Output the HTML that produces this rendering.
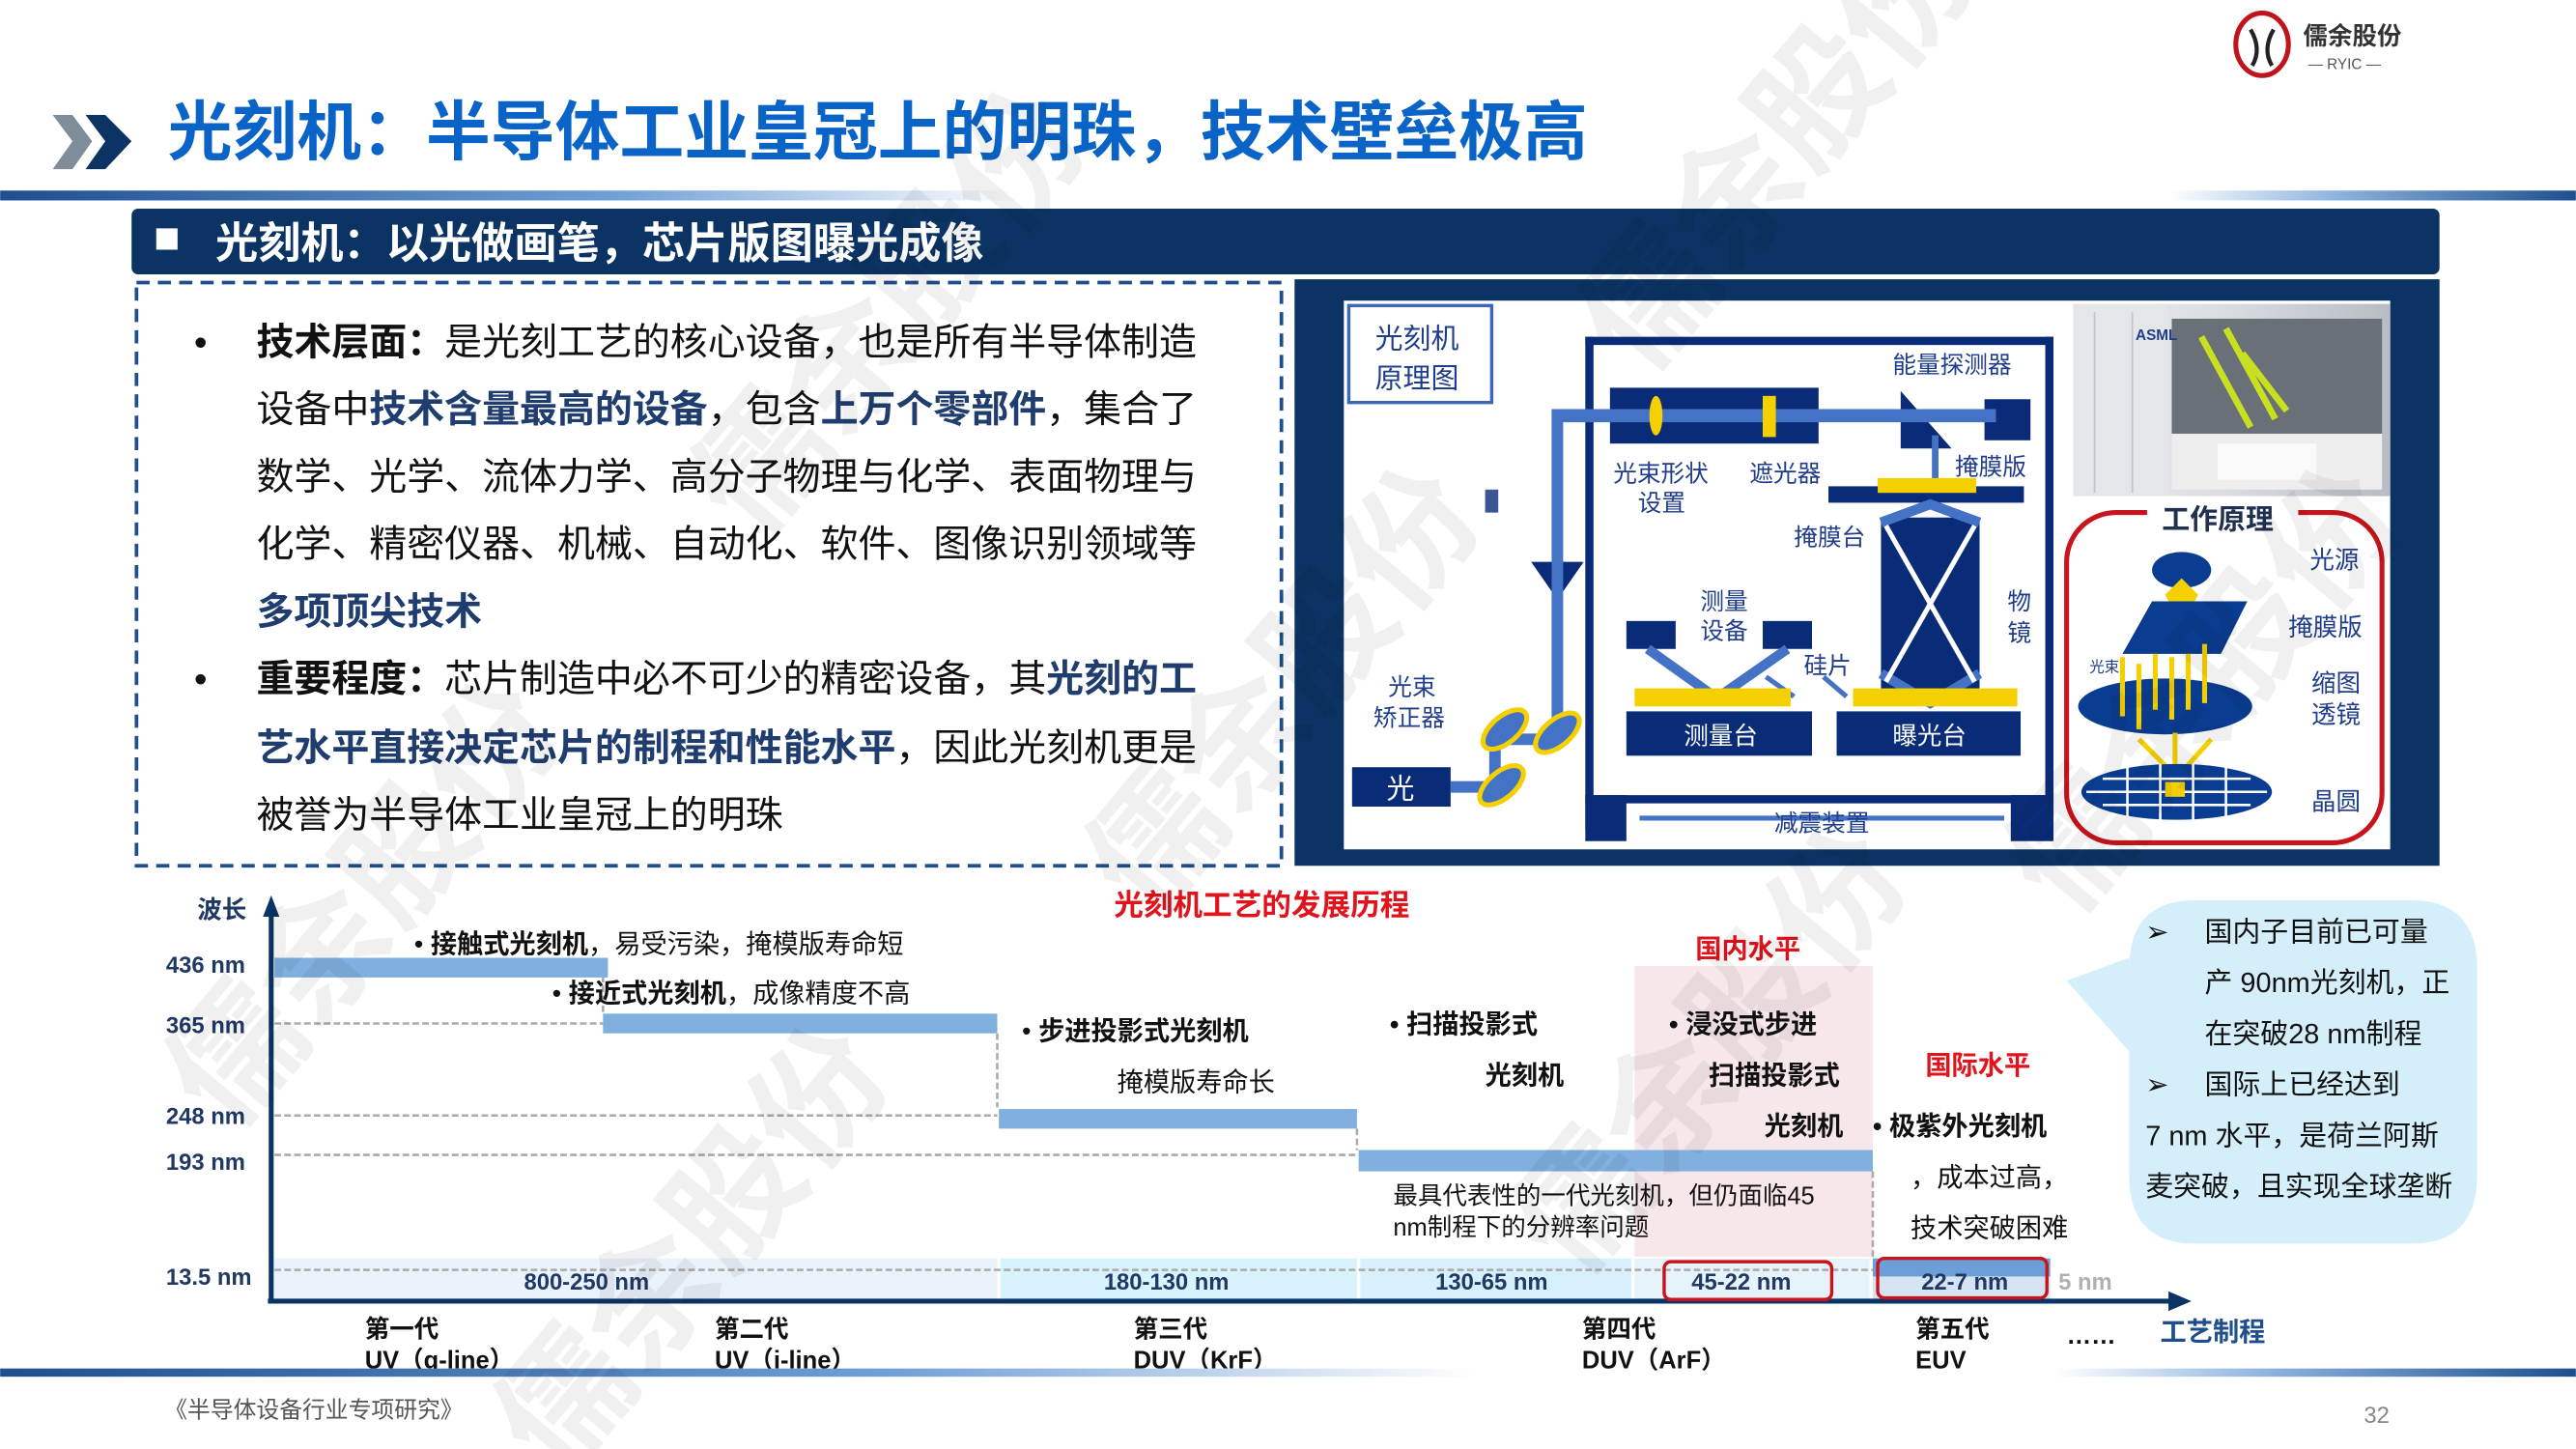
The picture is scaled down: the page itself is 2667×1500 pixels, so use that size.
<!DOCTYPE html>
<html><head><meta charset="utf-8"><style>
html,body{margin:0;padding:0;background:#fff;}
svg{display:block;}
text{font-family:"Liberation Sans","Noto Sans CJK SC",sans-serif;}
</style></head><body>
<svg width="2667" height="1500" viewBox="0 0 1568 882" xmlns="http://www.w3.org/2000/svg">
<defs>
<linearGradient id="gl" x1="0" x2="1"><stop offset="0" stop-color="#1d4f8f"/><stop offset="0.6" stop-color="#6f9fd6"/><stop offset="1" stop-color="#fff"/></linearGradient>
<linearGradient id="gr" x1="0" x2="1"><stop offset="0" stop-color="#fff"/><stop offset="0.4" stop-color="#8fb5e0"/><stop offset="1" stop-color="#1d4f8f"/></linearGradient>
<linearGradient id="asml" x1="0" x2="1"><stop offset="0" stop-color="#eef0f3"/><stop offset="0.5" stop-color="#d8dbe0"/><stop offset="1" stop-color="#b8bcc4"/></linearGradient>
</defs>

<!-- header -->
<polygon points="32,70 44,70 56,86 44,103 32,103 44,86" fill="#7f8c9a"/>
<polygon points="52,70 64,70 80,86 64,103 52,103 64,86" fill="#0b3464"/>
<text x="102" y="94" font-size="39.3" font-weight="bold" fill="#0a64c8">光刻机：半导体工业皇冠上的明珠，技术壁垒极高</text>
<ellipse cx="1377" cy="27" rx="16" ry="19" fill="none" stroke="#c0141c" stroke-width="3"/>
<path d="M1370 18 Q1377 30 1371 40 M1384 18 Q1377 30 1383 40" stroke="#222" stroke-width="2.5" fill="none"/>
<text x="1402" y="27" font-size="15" font-weight="bold" fill="#333">儒余股份</text>
<text x="1405" y="42" font-size="9" fill="#555">— RYIC —</text>
<rect x="0" y="116" width="620" height="6" fill="url(#gl)"/>
<rect x="1320" y="116" width="248" height="6" fill="url(#gr)"/>

<rect x="80" y="127" width="1405" height="40" rx="4" fill="#0b3464"/>
<rect x="95" y="139" width="13" height="13" fill="#fff"/>
<text x="131" y="157" font-size="26" font-weight="bold" fill="#fff">光刻机：以光做画笔，芯片版图曝光成像</text>

<!-- left dashed box -->
<rect x="83" y="172" width="697" height="355" fill="none" stroke="#1f4e8c" stroke-width="2.2" stroke-dasharray="8,5"/>
<g font-size="22.9" fill="#111">
<text x="118" y="216">•</text>
<text x="156" y="216"><tspan font-weight="bold">技术层面：</tspan>是光刻工艺的核心设备，也是所有半导体制造</text>
<text x="156" y="257">设备中<tspan font-weight="bold" fill="#1f3d6e">技术含量最高的设备</tspan>，包含<tspan font-weight="bold" fill="#1f3d6e">上万个零部件</tspan>，集合了</text>
<text x="156" y="298">数学、光学、流体力学、高分子物理与化学、表面物理与</text>
<text x="156" y="339">化学、精密仪器、机械、自动化、软件、图像识别领域等</text>
<text x="156" y="380" font-weight="bold" fill="#1f3d6e">多项顶尖技术</text>
<text x="118" y="421">•</text>
<text x="156" y="421"><tspan font-weight="bold">重要程度：</tspan>芯片制造中必不可少的精密设备，其<tspan font-weight="bold" fill="#1f3d6e">光刻的工</tspan></text>
<text x="156" y="463"><tspan font-weight="bold" fill="#1f3d6e">艺水平直接决定芯片的制程和性能水平</tspan>，因此光刻机更是</text>
<text x="156" y="504">被誉为半导体工业皇冠上的明珠</text>
</g>

<!-- right panel -->
<rect x="788" y="170" width="697" height="357" fill="#0b3464"/>
<rect x="818" y="183" width="637" height="334" fill="#fff"/>
<rect x="821" y="186" width="87" height="59" fill="none" stroke="#3a67b8" stroke-width="2"/>
<g font-size="17" fill="#1f3d8a"><text x="837" y="212">光刻机</text><text x="837" y="236">原理图</text></g>

<g fill="#0a2c78">
<rect x="965" y="205" width="285" height="5"/>
<rect x="965" y="205" width="5" height="300"/>
<rect x="1245" y="205" width="5" height="300"/>
<rect x="965" y="484" width="285" height="5"/>
<rect x="965" y="484" width="25" height="28"/>
<rect x="1224" y="484" width="26" height="28"/>
<rect x="980" y="236" width="127" height="34"/>
<polygon points="1157,238 1188,273 1157,273"/>
<rect x="1208" y="243" width="28" height="25"/>
<polygon points="932,342 964,342 948,365"/>
<rect x="1113" y="296" width="119" height="10"/>
<rect x="1145" y="315" width="60" height="105"/>
<rect x="990" y="378" width="30" height="17"/>
<rect x="1073" y="378" width="30" height="17"/>
<rect x="990" y="433" width="113" height="27"/>
<rect x="1118" y="433" width="112" height="27"/>
<rect x="823" y="467" width="60" height="24"/>
<rect x="904" y="298" width="8" height="14" opacity="0.8"/>
</g>
<g stroke="#4472c4" fill="none">
<line x1="948" y1="253" x2="1215" y2="253" stroke-width="8"/>
<line x1="948" y1="249" x2="948" y2="455" stroke-width="7"/>
<line x1="1178" y1="265" x2="1178" y2="300" stroke-width="4"/>
<polyline points="1145,318 1175,307 1205,318" stroke-width="6"/>
<polyline points="1145,410 1175,428 1205,410" stroke-width="6"/>
<polyline points="1003,395 1045,425 1088,395" stroke-width="6"/>
<line x1="1075" y1="412" x2="1092" y2="424" stroke-width="3"/>
<line x1="1110" y1="412" x2="1124" y2="424" stroke-width="3"/>
<line x1="883" y1="479" x2="910" y2="479" stroke-width="7"/>
<line x1="910" y1="479" x2="910" y2="450" stroke-width="7"/>
<line x1="910" y1="450" x2="948" y2="450" stroke-width="7"/>
<line x1="998" y1="498" x2="1220" y2="498" stroke-width="3"/>
</g>
<g stroke="#fff" stroke-width="3"><line x1="1148" y1="320" x2="1202" y2="415"/><line x1="1202" y1="320" x2="1148" y2="415"/></g>
<ellipse cx="1008" cy="253" rx="4" ry="12" fill="#f5d000"/>
<rect x="1073" y="241" width="8" height="25" fill="#f5d000"/>
<rect x="1143" y="291" width="60" height="9" fill="#f5d000"/>
<rect x="995" y="419" width="95" height="11" fill="#f5d000"/>
<rect x="1128" y="419" width="100" height="11" fill="#f5d000"/>
<g fill="#4472c4" stroke="#f5d000" stroke-width="3">
<ellipse cx="916" cy="444" rx="16" ry="8" transform="rotate(-40 916 444)"/>
<ellipse cx="948" cy="446" rx="16" ry="8" transform="rotate(-40 948 446)"/>
<ellipse cx="914" cy="478" rx="16" ry="8" transform="rotate(-40 914 478)"/>
</g>
<g font-size="14.5" fill="#1f3d8a">
<text x="1152" y="227">能量探测器</text>
<text x="982" y="293">光束形状</text><text x="997" y="311">设置</text>
<text x="1065" y="293">遮光器</text>
<text x="1190" y="289">掩膜版</text>
<text x="1092" y="332">掩膜台</text>
<text x="1035" y="371">测量</text><text x="1035" y="389">设备</text>
<text x="1222" y="371">物</text><text x="1222" y="390">镜</text>
<text x="1098" y="410">硅片</text>
<text x="845" y="423">光束</text><text x="836" y="442">矫正器</text>
<text x="1080" y="506">减震装置</text>
</g>
<g font-size="15" fill="#fff"><text x="1025" y="453">测量台</text><text x="1152" y="453">曝光台</text><text x="844" y="486" font-size="17">光</text></g>

<!-- ASML photo -->
<rect x="1262" y="185" width="193" height="117" fill="url(#asml)"/>
<rect x="1322" y="194" width="128" height="70" fill="#6a7078"/>
<rect x="1262" y="185" width="58" height="117" fill="#e4e6ea"/>
<line x1="1275" y1="190" x2="1275" y2="300" stroke="#c0c4ca" stroke-width="1"/>
<line x1="1298" y1="190" x2="1298" y2="300" stroke="#c0c4ca" stroke-width="1"/>
<text x="1300" y="207" font-size="9" font-weight="bold" fill="#1f3d8a">ASML</text>
<path d="M1340 205 L1370 260 M1355 200 L1385 255 M1365 215 L1392 250" stroke="#c8e020" stroke-width="4"/>
<rect x="1322" y="264" width="128" height="34" fill="#eeeeee"/>
<rect x="1350" y="270" width="60" height="22" fill="#fafafa"/>

<!-- working principle -->
<rect x="1258" y="312" width="192" height="201" rx="30" fill="none" stroke="#c8141c" stroke-width="3"/>
<rect x="1307" y="303" width="92" height="22" fill="#fff"/>
<text x="1316" y="322" font-size="17" font-weight="bold" fill="#1f3050">工作原理</text>
<ellipse cx="1328" cy="347" rx="18" ry="11" fill="#0a3d91"/>
<polygon points="1318,362 1328,352 1338,362 1334,370 1322,370" fill="#f5d000"/>
<polygon points="1310,366 1368,366 1352,398 1292,398" fill="#0a3d91"/>
<ellipse cx="1318" cy="430" rx="53" ry="17" fill="#0a3d91"/>
<g stroke="#f5d000" stroke-width="3"><line x1="1292" y1="400" x2="1292" y2="436"/><line x1="1302" y1="404" x2="1302" y2="444"/><line x1="1312" y1="398" x2="1312" y2="432"/><line x1="1322" y1="400" x2="1322" y2="438"/><line x1="1332" y1="398" x2="1332" y2="432"/><line x1="1342" y1="392" x2="1342" y2="428"/>
<line x1="1302" y1="450" x2="1322" y2="470"/><line x1="1324" y1="446" x2="1324" y2="468"/><line x1="1346" y1="450" x2="1328" y2="470"/></g>
<ellipse cx="1325" cy="482" rx="58" ry="17" fill="#0a3d91"/>
<g stroke="#fff" stroke-width="1.5"><line x1="1270" y1="482" x2="1380" y2="482"/><line x1="1280" y1="474" x2="1370" y2="474"/><line x1="1280" y1="490" x2="1370" y2="490"/><line x1="1295" y1="466" x2="1295" y2="498"/><line x1="1315" y1="465" x2="1315" y2="499"/><line x1="1335" y1="465" x2="1335" y2="499"/><line x1="1355" y1="466" x2="1355" y2="498"/></g>
<rect x="1318" y="476" width="12" height="9" fill="#f5d000"/>
<text x="1272" y="409" font-size="9" fill="#1f3d8a">光束</text>
<g font-size="15" fill="#1f3d8a"><text x="1406" y="346">光源</text><text x="1393" y="387">掩膜版</text><text x="1407" y="421">缩图</text><text x="1407" y="440">透镜</text><text x="1407" y="493">晶圆</text></g>

<!-- chart -->
<text x="678" y="557" font-size="18" font-weight="bold" fill="#e0141c">光刻机工艺的发展历程</text>
<rect x="995" y="588" width="145" height="177" fill="#f6e3e6" opacity="0.85"/>
<g fill="#eaf2fb"><rect x="165" y="766" width="442" height="25"/></g>
<rect x="609" y="766" width="217" height="25" fill="#d8f3fb"/>
<rect x="828" y="766" width="165" height="25" fill="#d8f0fb"/>
<rect x="995" y="766" width="143" height="25" fill="#e6f3fb"/>
<rect x="1140" y="766" width="108" height="25" fill="#d6e3f2"/>
<rect x="1140" y="766" width="108" height="11" fill="#6c9fd8"/>
<g stroke="#aaa" stroke-width="1.5" stroke-dasharray="4,2" fill="none">
<line x1="167" y1="623" x2="367" y2="623"/><line x1="367" y1="594" x2="367" y2="617"/>
<line x1="167" y1="679" x2="607" y2="679"/><line x1="607" y1="629" x2="607" y2="674"/>
<line x1="167" y1="703" x2="826" y2="703"/><line x1="826" y1="687" x2="826" y2="700"/>
<line x1="167" y1="773" x2="1140" y2="773"/><line x1="1140" y1="713" x2="1140" y2="766"/>
</g>
<g fill="#80b0df">
<rect x="167" y="583" width="203" height="12"/>
<rect x="367" y="617" width="240" height="12"/>
<rect x="608" y="675" width="218" height="12"/>
<rect x="827" y="700" width="313" height="13"/>
</g>
<line x1="165" y1="793" x2="165" y2="556" stroke="#0b3464" stroke-width="3"/>
<polygon points="160,558 170,558 165,545" fill="#0b3464"/>
<line x1="163" y1="792" x2="1322" y2="792" stroke="#0b3464" stroke-width="3"/>
<polygon points="1320,786 1320,798 1334,792" fill="#0b3464"/>
<text x="120" y="559" font-size="15" font-weight="bold" fill="#1f3864">波长</text>
<g font-size="14" font-weight="bold" fill="#1f3864">
<text x="101" y="592">436 nm</text><text x="101" y="629">365 nm</text><text x="101" y="684">248 nm</text><text x="101" y="712">193 nm</text><text x="101" y="782">13.5 nm</text>
</g>
<g font-size="14" font-weight="bold" fill="#1f3864" text-anchor="middle">
<text x="357" y="785">800-250 nm</text><text x="710" y="785">180-130 nm</text><text x="908" y="785">130-65 nm</text><text x="1060" y="785">45-22 nm</text><text x="1196" y="785">22-7 nm</text>
</g>
<text x="1253" y="785" font-size="14" font-weight="bold" fill="#b0b0b0">5 nm</text>
<rect x="1013" y="768" width="102" height="23" rx="4" fill="none" stroke="#c8141c" stroke-width="2"/>
<rect x="1143" y="766" width="103" height="24" rx="4" fill="none" stroke="#c8141c" stroke-width="2"/>
<g font-size="15" font-weight="bold" fill="#111">
<text x="222" y="814">第一代</text><text x="222" y="833">UV（g-line）</text>
<text x="435" y="814">第二代</text><text x="435" y="833">UV（i-line）</text>
<text x="690" y="814">第三代</text><text x="690" y="833">DUV（KrF）</text>
<text x="963" y="814">第四代</text><text x="963" y="833">DUV（ArF）</text>
<text x="1166" y="814">第五代</text><text x="1166" y="833">EUV</text>
<text x="1258" y="818">……</text>
</g>
<text x="1315" y="816" font-size="16" font-weight="bold" fill="#1f4e8c">工艺制程</text>

<g font-size="16" fill="#111">
<text x="252" y="580">•  <tspan font-weight="bold">接触式光刻机</tspan>，易受污染，掩模版寿命短</text>
<text x="336" y="610">•  <tspan font-weight="bold">接近式光刻机</tspan>，成像精度不高</text>
<text x="622" y="633">•  <tspan font-weight="bold">步进投影式光刻机</tspan></text>
<text x="680" y="664">掩模版寿命长</text>
<g font-weight="bold">
<text x="846" y="629">•  扫描投影式</text><text x="904" y="660">光刻机</text>
<text x="1016" y="629">•  浸没式步进</text><text x="1040" y="660">扫描投影式</text><text x="1074" y="691">光刻机</text>
<text x="1140" y="691">•  极紫外光刻机</text>
</g>
<text x="1163" y="722">，成本过高，</text>
<text x="1163" y="753">技术突破困难</text>
</g>
<g font-size="15" fill="#111"><text x="848" y="733">最具代表性的一代光刻机，但仍面临45</text><text x="848" y="752">nm制程下的分辨率问题</text></g>
<text x="1032" y="583" font-size="16" font-weight="bold" fill="#e0141c">国内水平</text>
<text x="1172" y="654" font-size="16" font-weight="bold" fill="#e0141c">国际水平</text>

<!-- callout -->
<path d="M1258,597 L1296,583 L1296,590 Q1296,548 1336,548 L1468,548 Q1508,548 1508,590 L1508,715 Q1508,757 1468,757 L1336,757 Q1296,757 1296,715 L1296,640 Z" fill="#d5effa"/>
<g font-size="17" fill="#111">
<text x="1306" y="573">➢</text><text x="1342" y="573">国内子目前已可量</text>
<text x="1342" y="604">产 90nm光刻机，正</text>
<text x="1342" y="635">在突破28 nm制程</text>
<text x="1306" y="666">➢</text><text x="1342" y="666">国际上已经达到</text>
<text x="1306" y="697">7 nm 水平，是荷兰阿斯</text>
<text x="1306" y="728">麦突破，且实现全球垄断</text>
</g>

<!-- footer -->
<rect x="0" y="833" width="900" height="5" fill="url(#gl)"/>
<rect x="1250" y="833" width="318" height="5" fill="url(#gr)"/>
<text x="100" y="863" font-size="14" fill="#555">《半导体设备行业专项研究》</text>
<text x="1439" y="866" font-size="14" fill="#888">32</text>

<!-- watermarks -->
<g font-size="80" fill="#000" opacity="0.06" font-weight="bold">
<text transform="translate(1000,230) rotate(-50)">儒余股份</text>
<text transform="translate(460,330) rotate(-50)">儒余股份</text>
<text transform="translate(140,690) rotate(-50)">儒余股份</text>
<text transform="translate(700,560) rotate(-50)">儒余股份</text>
<text transform="translate(960,780) rotate(-50)">儒余股份</text>
<text transform="translate(1260,560) rotate(-50)">儒余股份</text>
<text transform="translate(340,900) rotate(-50)">儒余股份</text>
</g>
</svg>
</body></html>
